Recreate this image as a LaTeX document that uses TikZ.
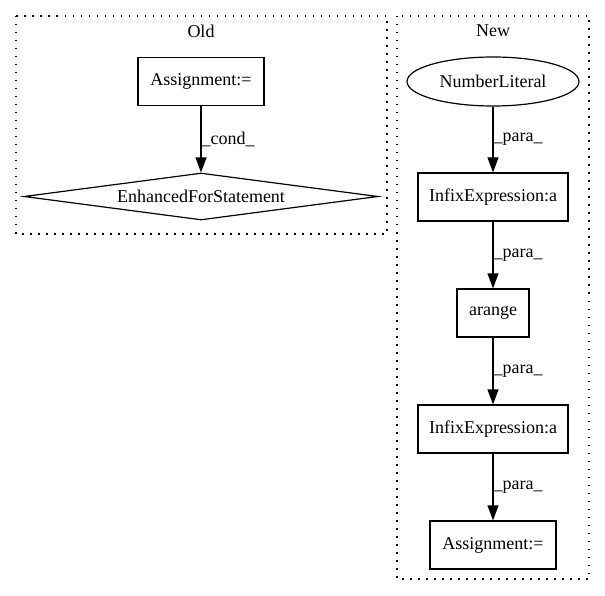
\documentclass[tikz,border=0pt]{standalone}
\usepackage{fontspec}
\setmainfont{Liberation Serif}
\usetikzlibrary{arrows.meta,shapes.geometric}
\begin{document}
\begin{tikzpicture}[x=1pt,y=-1pt,
  every node/.style={font=\fontsize{18}{21}\selectfont},
  box/.style={draw, line width=1.2pt, rectangle, inner sep=0pt, minimum height=48pt},
  oval/.style={draw, line width=1.2pt, ellipse, inner sep=0pt, minimum width=172pt, minimum height=49pt},
  dia/.style={draw, line width=1.2pt, diamond, aspect=7.5, inner sep=0pt, minimum width=354pt, minimum height=47pt},
  cluster/.style={line width=1.2pt, dash pattern=on 1.5pt off 6.5pt},
  edge/.style={line width=1.2pt, -{Triangle[length=15pt,width=11pt]}},
  lbl/.style={anchor=west, inner sep=0pt, midway}
]
\useasboundingbox (0,0) rectangle (605,596);
% clusters
\draw[cluster] (16,16) rectangle (387,234);
\draw[cluster] (397,16) rectangle (589,579);
\node (told) at (201,31) {Old};
\node (tnew) at (493,31) {New};
% Old
\node[box, minimum width=126pt] (oa) at (201,81.5) {Assignment:=};
\node[dia] (oe) at (201,196.5) {EnhancedForStatement};
\draw[edge] (oa) -- node[lbl] {\_cond\_} (oe);
% New
\node[oval] (nl) at (493,81.5) {NumberLiteral};
\node[box, minimum width=150pt] (i1) at (493,197) {InfixExpression:a};
\node[box, minimum width=72pt] (ar) at (493,313) {arange};
\node[box, minimum width=150pt] (i2) at (493,429) {InfixExpression:a};
\node[box, minimum width=126pt] (na) at (493,545) {Assignment:=};
\draw[edge] (nl) -- node[lbl] {\_para\_} (i1);
\draw[edge] (i1) -- node[lbl] {\_para\_} (ar);
\draw[edge] (ar) -- node[lbl] {\_para\_} (i2);
\draw[edge] (i2) -- node[lbl] {\_para\_} (na);
\end{tikzpicture}
\end{document}
